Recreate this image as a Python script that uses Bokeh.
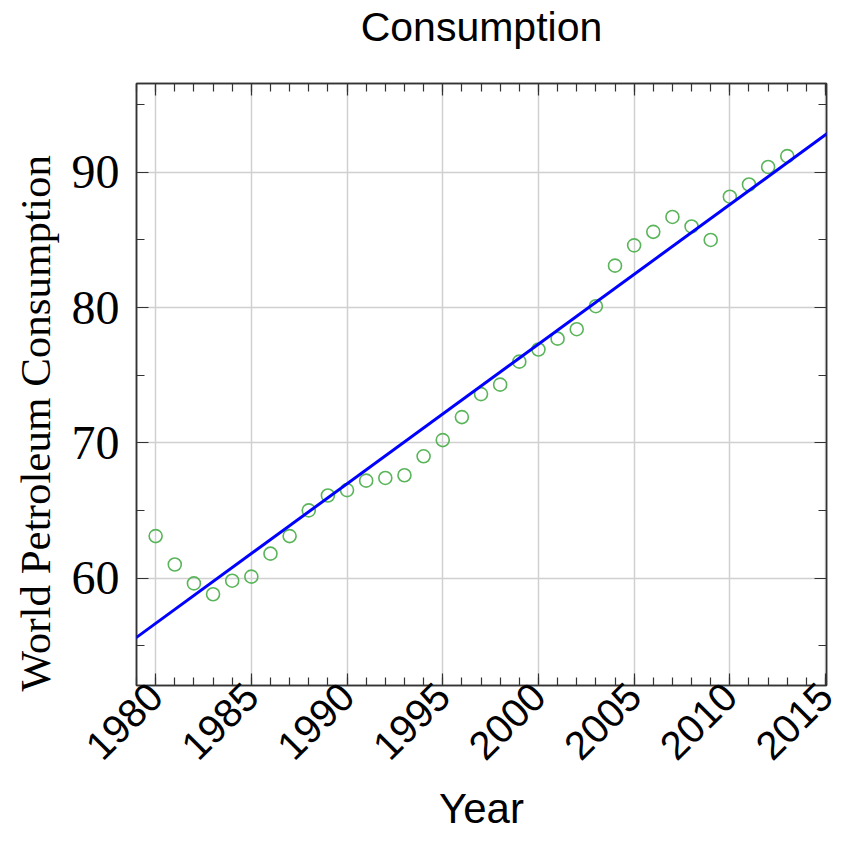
import numpy as np
from math import pi
from bokeh.plotting import figure
from bokeh.models import FixedTicker, LinearAxis, Range1d, Slope, CustomJSTickFormatter, Title
from bokeh.embed import file_html
from bokeh.resources import INLINE

# ---- data ----
years = list(range(1980, 2014))
consumption = [63.1, 61.0, 59.6, 58.8, 59.8, 60.1, 61.8, 63.1, 65.0, 66.1,
               66.5, 67.2, 67.4, 67.6, 69.0, 70.2, 71.9, 73.6, 74.3, 76.0,
               76.9, 77.7, 78.4, 80.1, 83.1, 84.6, 85.6, 86.7, 86.0, 85.0,
               88.2, 89.1, 90.4, 91.2]
x_major_ticks = [1980, 1985, 1990, 1995, 2000, 2005, 2010, 2015]
x_minor_ticks = list(range(1979, 2016))
y_major_ticks = [60, 70, 80, 90]
y_minor_ticks = [55, 65, 75, 85, 95]
title_text = "Consumption"
x_label = "Year"
y_label = "World Petroleum Consumption"

# least-squares fit of the data
slope, intercept = np.polyfit(years, consumption, 1)

X0, X1 = 1979.0, 2015.05
Y0, Y1 = 52.05, 96.57

AXIS_COLOR = "#333333"
GRID_COLOR = "#d0d0d0"

p = figure(width=846, height=835,
           x_range=Range1d(X0, X1), y_range=Range1d(Y0, Y1),
           output_backend="svg", toolbar_location=None,
           min_border_left=136, min_border_right=20, min_border_top=0, min_border_bottom=0)
p.outline_line_color = AXIS_COLOR
p.outline_line_width = 1.5
p.background_fill_color = "white"
p.border_fill_color = "white"
p.title.visible = False

xt = FixedTicker(ticks=x_major_ticks, minor_ticks=x_minor_ticks)
yt = FixedTicker(ticks=y_major_ticks, minor_ticks=y_minor_ticks)

def style_axis(ax):
    ax.axis_line_color = AXIS_COLOR
    ax.axis_line_width = 1.5
    ax.major_tick_line_color = AXIS_COLOR
    ax.minor_tick_line_color = AXIS_COLOR
    ax.major_tick_line_width = 1.2
    ax.minor_tick_line_width = 1.2
    ax.major_tick_in = 12
    ax.major_tick_out = 0
    ax.minor_tick_in = 8
    ax.minor_tick_out = 0

xa = p.xaxis[0]
xa.ticker = xt
style_axis(xa)
xa.major_label_orientation = pi / 4
xa.major_label_text_font = "Liberation Sans"
xa.major_label_text_font_size = "40px"
xa.major_label_text_color = "black"
xa.major_label_standoff = 4
xa.axis_label = x_label
xa.axis_label_text_font = "Liberation Sans"
xa.axis_label_text_font_size = "42px"
xa.axis_label_text_font_style = "normal"
xa.axis_label_text_color = "black"
xa.axis_label_standoff = 10

ya = p.yaxis[0]
ya.ticker = yt
style_axis(ya)
ya.major_label_text_font = "Liberation Serif"
ya.major_label_text_font_size = "48px"
ya.major_label_text_color = "black"
ya.major_label_standoff = 17

# y axis title: starts just below the frame bottom, as in the reference
p.add_layout(Title(text=y_label, align="left", offset=-6, standoff=19,
                   text_font="Liberation Serif", text_font_size="43px",
                   text_font_style="normal", text_color="black"), "left")

blank = CustomJSTickFormatter(code="return ''")
# top frame edge with inward ticks; it carries the chart title
top = LinearAxis(ticker=xt, formatter=blank, major_label_text_font_size="0px",
                 major_label_standoff=0, axis_label=title_text,
                 axis_label_text_font="Liberation Sans", axis_label_text_font_size="41px",
                 axis_label_text_font_style="normal", axis_label_text_color="black",
                 axis_label_standoff=34)
style_axis(top)
p.add_layout(top, "above")
right = LinearAxis(ticker=yt, formatter=blank, major_label_text_font_size="0px",
                   major_label_standoff=0)
style_axis(right)
p.add_layout(right, "right")

p.xgrid.ticker = xt
p.ygrid.ticker = yt
for g in (p.xgrid[0], p.ygrid[0]):
    g.grid_line_color = GRID_COLOR
    g.grid_line_width = 1.5

p.scatter(years, consumption, marker="circle", size=13, fill_color=None,
          line_color="#5ab55a", line_width=1.6)

p.add_layout(Slope(gradient=slope, y_intercept=intercept, line_color="blue", line_width=3))

open("out.html", "w").write(file_html(p, INLINE))
